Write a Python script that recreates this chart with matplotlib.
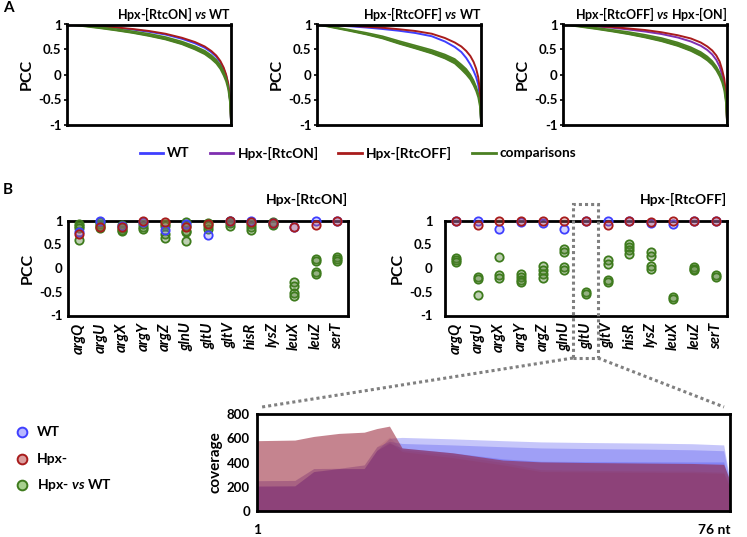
import matplotlib
matplotlib.use('Agg')
import matplotlib.pyplot as plt
from matplotlib.lines import Line2D
from matplotlib.patches import Rectangle

plt.rcParams.update({
    'font.family': ['Lato', 'DejaVu Sans'],
    'font.weight': 'bold',
    'axes.labelweight': 'bold',
    'axes.titleweight': 'bold',
    'mathtext.fontset': 'custom',
    'mathtext.it': 'Lato:italic:bold',
    'mathtext.rm': 'Lato:bold',
    'mathtext.bf': 'Lato:bold',
})

# ---------------- Panel A data (sorted PCC curves) ----------------
rank_pct = [0, 10, 20, 30, 40, 50, 60, 70, 78, 84, 88, 91, 93.5, 95.5, 97, 98.3, 99.3, 100]

a1_wt  = [1.0, 0.982, 0.96, 0.932, 0.90, 0.855, 0.80, 0.715, 0.625, 0.535, 0.445, 0.355, 0.245, 0.115, -0.02, -0.2, -0.47, -0.93]
a1_off = [1.0, 0.985, 0.965, 0.94, 0.91, 0.87, 0.815, 0.735, 0.65, 0.56, 0.47, 0.38, 0.27, 0.14, 0.0, -0.18, -0.45, -0.92]
a1_cmp_hi = [1.0, 0.975, 0.945, 0.91, 0.865, 0.815, 0.75, 0.66, 0.565, 0.475, 0.385, 0.295, 0.19, 0.06, -0.07, -0.24, -0.5, -0.95]
a1_cmp_lo = [1.0, 0.965, 0.925, 0.88, 0.83, 0.77, 0.70, 0.605, 0.5, 0.405, 0.31, 0.22, 0.11, -0.02, -0.14, -0.3, -0.55, -0.97]

a2_wt  = [1.0, 0.985, 0.965, 0.94, 0.91, 0.875, 0.83, 0.765, 0.66, 0.55, 0.45, 0.33, 0.2, 0.07, -0.05, -0.2, -0.45, -0.92]
a2_off = [1.0, 0.99, 0.975, 0.955, 0.935, 0.905, 0.87, 0.815, 0.73, 0.64, 0.56, 0.47, 0.37, 0.25, 0.12, -0.05, -0.3, -0.9]
a2_cmp_hi = [1.0, 0.95, 0.895, 0.835, 0.765, 0.67, 0.58, 0.49, 0.40, 0.31, 0.2, 0.11, 0.0, -0.12, -0.24, -0.38, -0.58, -0.95]
a2_cmp_lo = [1.0, 0.935, 0.87, 0.80, 0.72, 0.615, 0.52, 0.42, 0.32, 0.22, 0.1, 0.0, -0.1, -0.22, -0.33, -0.46, -0.64, -0.97]

a3_on  = [1.0, 0.98, 0.96, 0.935, 0.90, 0.86, 0.81, 0.74, 0.66, 0.575, 0.49, 0.4, 0.29, 0.16, 0.0, -0.18, -0.45, -0.93]
a3_off = [1.0, 0.985, 0.97, 0.95, 0.92, 0.89, 0.845, 0.785, 0.72, 0.64, 0.56, 0.48, 0.38, 0.26, 0.1, -0.08, -0.35, -0.9]
a3_cmp_hi = [1.0, 0.97, 0.935, 0.895, 0.85, 0.795, 0.73, 0.64, 0.545, 0.45, 0.36, 0.27, 0.16, 0.04, -0.09, -0.25, -0.5, -0.95]
a3_cmp_lo = [1.0, 0.955, 0.91, 0.86, 0.805, 0.74, 0.665, 0.57, 0.47, 0.37, 0.28, 0.19, 0.08, -0.04, -0.16, -0.32, -0.56, -0.97]

a_titles = [r'Hpx-[RtcON] $\mathit{vs}$ WT', r'Hpx-[RtcOFF] $\mathit{vs}$ WT', r'Hpx-[RtcOFF] $\mathit{vs}$ Hpx-[ON]']
legend_a = ['WT', 'Hpx-[RtcON]', 'Hpx-[RtcOFF]', 'comparisons']

# ---------------- Panel B data (per-tRNA PCC) ----------------
genes = ['argQ', 'argU', 'argX', 'argY', 'argZ', 'glnU', 'gltU', 'gltV', 'hisR', 'lysZ', 'leuX', 'leuZ', 'serT']

on_wt  = [0.76, 0.98, 0.88, 0.97, 0.81, 0.93, 0.69, 0.98, 0.99, 0.95, 0.87, 1.0, 1.0]
on_hpx = [0.72, 0.87, 0.86, 0.98, 0.97, 0.86, 0.93, 0.98, 0.97, 0.95, 0.86, 0.91, 1.0]
on_cmp = [[0.92, 0.88, 0.84, 0.60], [0.96, 0.92, 0.88, 0.85], [0.90, 0.85, 0.80, 0.77],
          [0.93, 0.87, 0.82], [0.92, 0.88, 0.72, 0.63], [0.97, 0.88, 0.78, 0.75, 0.56],
          [0.94, 0.89, 0.83], [0.99, 0.95, 0.88], [0.93, 0.86, 0.80], [0.96, 0.93, 0.91],
          [-0.30, -0.37, -0.52, -0.58], [0.20, 0.15, -0.08, -0.13], [0.23, 0.19, 0.15]]

off_wt  = [1.0, 0.98, 0.82, 0.97, 0.95, 0.83, 1.0, 1.0, 1.0, 0.94, 0.93, 1.0, 1.0]
off_hpx = [1.0, 0.90, 0.98, 1.0, 1.0, 1.0, 1.0, 0.90, 1.0, 0.97, 1.0, 1.0, 1.0]
off_cmp = [[0.22, 0.17, 0.12], [-0.19, -0.24, -0.57], [0.24, -0.14, -0.20],
           [-0.13, -0.19, -0.25, -0.30], [0.05, -0.05, -0.12, -0.20], [0.40, 0.33, 0.03, -0.05],
           [-0.50, -0.54], [0.16, 0.09, -0.25, -0.30], [0.51, 0.44, 0.37, 0.30],
           [0.33, 0.26, 0.05, -0.02], [-0.60, -0.65], [0.03, -0.02, -0.05], [-0.14, -0.19]]

b_titles = ['Hpx-[RtcON]', 'Hpx-[RtcOFF]']
legend_c = ['WT', 'Hpx-', r'Hpx- $\mathit{vs}$ WT']

# ---------------- Panel C data (gltU coverage) ----------------
nt_pos = [1, 7, 10, 14, 18, 20, 22, 24, 32, 40, 46, 53, 63, 70, 75, 76]
wt_rep1 = [205, 207, 325, 350, 350, 500, 600, 607, 595, 580, 570, 565, 560, 555, 545, 250]
wt_rep2 = [250, 252, 350, 352, 380, 530, 575, 557, 545, 530, 520, 515, 510, 505, 497, 230]
wt_rep3 = [205, 207, 325, 350, 350, 500, 560, 520, 480, 430, 410, 408, 406, 405, 405, 220]
hpx_rep1 = [580, 585, 615, 640, 650, 680, 700, 520, 480, 420, 405, 400, 395, 392, 385, 250]
hpx_rep2 = [250, 252, 350, 352, 380, 530, 610, 505, 460, 400, 340, 335, 330, 328, 320, 200]
hpx_rep3 = [205, 207, 325, 350, 350, 500, 570, 490, 440, 380, 325, 322, 318, 316, 310, 190]

# ---------------- styling ----------------
C_WT = '#3f3fff'
C_ON = '#7f2fb0'
C_OFF = '#a81c1c'
C_GREEN = '#4b8022'
W, H = 747, 537
TICK_FS = 9.5


def rect(l, t, r, b):
    return [l / W, 1 - b / H, (r - l) / W, (b - t) / H]


def fx(px):
    return px / W


def fy(py):
    return 1 - py / H


def style_axes(ax, lw=2.0):
    for s in ax.spines.values():
        s.set_linewidth(lw)
        s.set_color('black')


fig = plt.figure(figsize=(7.47, 5.37), dpi=100)

# ---- Panel A ----
a_specs = [
    (rect(67, 24.5, 231, 124.5), [(a1_wt, C_WT), (a1_off, C_OFF)], a1_cmp_lo, a1_cmp_hi),
    (rect(317, 24.5, 481, 124.5), [(a2_wt, C_WT), (a2_off, C_OFF)], a2_cmp_lo, a2_cmp_hi),
    (rect(563, 24.5, 727, 124.5), [(a3_on, C_ON), (a3_off, C_OFF)], a3_cmp_lo, a3_cmp_hi),
]
for (pos, lines, lo, hi), title in zip(a_specs, a_titles):
    ax = fig.add_axes(pos)
    for vals, c in lines:
        ax.plot(rank_pct, vals, color=c, lw=1.4, solid_capstyle='butt')
    ax.fill_between(rank_pct, lo, hi, color=C_GREEN, lw=0)
    ax.plot(rank_pct, lo, color=C_GREEN, lw=1.2)
    ax.plot(rank_pct, hi, color=C_GREEN, lw=1.2)
    ax.set_xlim(0, 100)
    ax.set_ylim(-1, 1)
    ax.set_xticks([])
    ax.set_yticks([-1, -0.5, 0, 0.5, 1], ['-1', '-0.5', '0', '0.5', '1'])
    ax.tick_params(axis='y', length=2.5, width=1.2, pad=1.5, labelsize=TICK_FS)
    ax.set_ylabel('PCC', fontsize=11.5, labelpad=3)
    ax.set_title(title, loc='right', fontsize=9, pad=4)
    style_axes(ax)

# legend A (manual)
leg_x = [(140, 163, 167), (210, 233, 238), (338, 362, 366), (472, 496, 499)]
leg_c = [C_WT, C_ON, C_OFF, C_GREEN]
for (x0, x1, xt), c, lab in zip(leg_x, leg_c, legend_a):
    fig.add_artist(Line2D([fx(x0), fx(x1)], [fy(153), fy(153)], color=c, lw=2,
                          transform=fig.transFigure))
    fig.text(fx(xt), fy(153), lab, fontsize=9.8, va='center', ha='left')

fig.text(fx(3), fy(8), 'A', fontsize=11, va='center', ha='left')
fig.text(fx(3), fy(190), 'B', fontsize=11, va='center', ha='left')

# ---- Panel B ----
G_FACE = (0.33, 0.51, 0.21, 0.38)
G_EDGE = '#3e7b1d'
B_FACE = (0.45, 0.45, 1.0, 0.3)
R_FACE = (0.75, 0.35, 0.35, 0.35)
MS = 36

b_specs = [
    (rect(68, 220.5, 348, 315.5), on_wt, on_hpx, on_cmp, 4),
    (rect(445, 220.5, 727, 315.5), off_wt, off_hpx, off_cmp, 9),
]
for (pos, wt, hpx, cmp_, tpad), title in zip(b_specs, b_titles):
    ax = fig.add_axes(pos)
    for i, vals in enumerate(cmp_):
        ax.scatter([i] * len(vals), vals, s=MS, facecolors=[G_FACE], edgecolors=G_EDGE,
                   linewidths=1.3, clip_on=False, zorder=3)
    ax.scatter(range(len(genes)), wt, s=MS, facecolors=[B_FACE], edgecolors=C_WT,
               linewidths=1.3, clip_on=False, zorder=4)
    ax.scatter(range(len(genes)), hpx, s=MS, facecolors=[R_FACE], edgecolors=C_OFF,
               linewidths=1.3, clip_on=False, zorder=5)
    ax.set_xlim(-0.5, len(genes) - 0.5)
    ax.set_ylim(-1, 1)
    ax.set_yticks([-1, -0.5, 0, 0.5, 1], ['-1', '-0.5', '0', '0.5', '1'])
    ax.set_xticks(range(len(genes)))
    ax.set_xticklabels(genes, rotation=90, fontstyle='italic', fontsize=10.5)
    ax.tick_params(axis='x', length=0, pad=5)
    ax.tick_params(axis='y', length=0, pad=tpad, labelsize=TICK_FS)
    ax.set_ylabel('PCC', fontsize=11.5, labelpad=3)
    ax.set_title(title, loc='right', fontsize=10, pad=12)
    style_axes(ax)

# ---- Panel C ----
axc = fig.add_axes(rect(257, 414, 730, 511))
for rep in (wt_rep1, wt_rep2, wt_rep3):
    axc.fill_between(nt_pos, 0, rep, color=(0.27, 0.27, 0.94), alpha=0.3, lw=0)
axc.fill_between(nt_pos, 0, hpx_rep1, color=(0.59, 0.12, 0.2), alpha=0.55, lw=0)
for rep in (hpx_rep2, hpx_rep3):
    axc.fill_between(nt_pos, 0, rep, color=(0.59, 0.12, 0.2), alpha=0.1, lw=0)
axc.set_xlim(1, 76)
axc.set_ylim(0, 800)
axc.set_yticks([0, 200, 400, 600, 800])
axc.tick_params(axis='y', length=0, pad=5, labelsize=TICK_FS)
axc.set_xticks([1, 76], ['1', '76 nt'])
axc.tick_params(axis='x', length=0, pad=9, labelsize=10)
axc.get_xticklabels()[1].set_ha('right')
axc.set_ylabel('coverage', fontsize=11, labelpad=3)
style_axes(axc)

# legend C (manual)
leg_faces = [(0.72, 0.72, 1.0), (0.86, 0.62, 0.62), (0.66, 0.82, 0.56)]
leg_edges = [C_WT, C_OFF, G_EDGE]
for y, fcol, ecol, lab in zip([432, 459, 485], leg_faces, leg_edges, legend_c):
    fig.add_artist(Line2D([fx(22)], [fy(y)], marker='o', markersize=7, markerfacecolor=fcol,
                          markeredgecolor=ecol, markeredgewidth=1.4, linestyle='none',
                          transform=fig.transFigure))
    fig.text(fx(37), fy(y), lab, fontsize=10, va='center', ha='left')

# ---- zoom connectors ----
DOT = dict(color='#808080', lw=2.2, linestyle=(0, (1, 1)), transform=fig.transFigure)
fig.add_artist(Rectangle((fx(573), fy(358)), fx(598) - fx(573), fy(204) - fy(358),
                         fill=False, edgecolor='#808080', lw=2.2, linestyle=(0, (1, 1)),
                         transform=fig.transFigure))
fig.add_artist(Line2D([fx(573), fx(262)], [fy(358), fy(407)], **DOT))
fig.add_artist(Line2D([fx(598), fx(724)], [fy(358), fy(407)], **DOT))

fig.savefig('out.png', dpi=100)
